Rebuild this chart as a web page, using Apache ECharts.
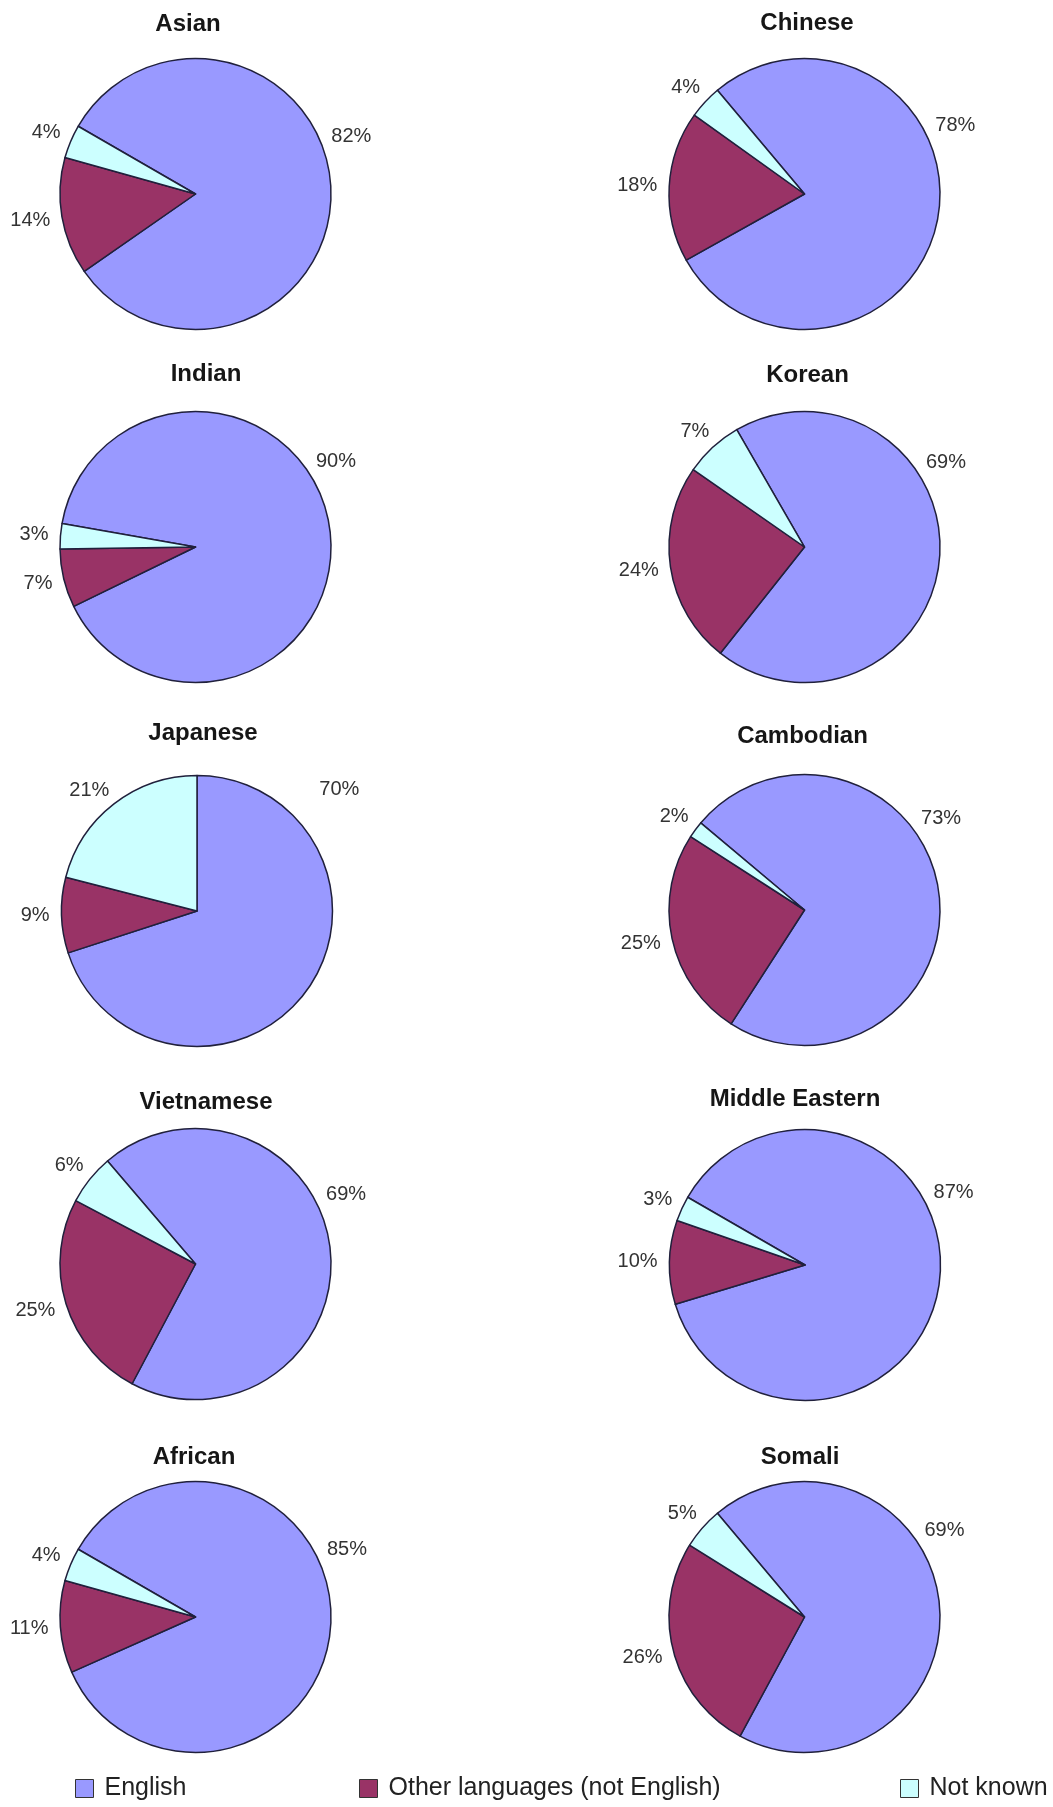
<!DOCTYPE html>
<html>
<head>
<meta charset="utf-8">
<title>Language spoken at home by ethnic group</title>
<script src="https://cdn.jsdelivr.net/npm/echarts@6/dist/echarts.min.js"></script>
<style>
  html, body { margin: 0; padding: 0; background: #ffffff; }
  #chart { width: 1053px; height: 1807px; }
</style>
</head>
<body>
<div id="chart"></div>
<script>
// ---- data -------------------------------------------------------------
const groups = ['Asian', 'Chinese', 'Indian', 'Korean', 'Japanese',
                'Cambodian', 'Vietnamese', 'Middle Eastern', 'African', 'Somali'];
const categories = ['English', 'Other languages (not English)', 'Not known'];
const english  = [82, 78, 90, 69, 70, 73, 69, 87, 85, 69];
const other    = [14, 18,  7, 24,  9, 25, 25, 10, 11, 26];
const notKnown = [ 4,  4,  3,  7, 21,  2,  6,  3,  4,  5];

// ---- layout -----------------------------------------------------------
const FONT = "'Liberation Sans', Arial, Helvetica, sans-serif";
const RADIUS = 135.5;
const pieCenters = [[195.5, 194], [804.5, 194], [195.5, 547], [804.5, 547], [197, 911],
                    [804.5, 910], [195.5, 1264], [805, 1265], [195.5, 1617], [804.5, 1617]];
const startAngles = [150, 130, 170, 120, 90, 140, 130.5, 150, 150, 130];
const titlePos = [[188, 24], [807, 23.5], [206, 374.5], [807.5, 375], [203, 733.5],
                  [802.5, 736.5], [206, 1102], [795, 1099.5], [194, 1457], [800, 1457]];
// the big "English" label sits up to the right of each pie
const englishLabelAngle = [21.5, 25.8, 33, 32.4, 42, 35.4, 26, 27.5, 25.3, 33.3];
const englishLabelGap   = [12, 12, 12, 12, 36, 12, 12, 12, 12, 12];
const notKnownLabelAngle = [null, null, null, null, 130, null, null, null, null, null];
const LABEL_GAP = 12;

function sliceValues(i) { return [english[i], other[i], notKnown[i]]; }

// places each percentage just outside its slice
function placeLabel(p) {
  const i = p.seriesIndex, j = p.dataIndex;
  const vals = sliceValues(i);
  const total = vals.reduce((a, b) => a + b, 0);
  let before = 0;
  for (let k = 0; k < j; k++) before += vals[k];
  let ang = startAngles[i] - (before + vals[j] / 2) / total * 360;
  let gap = LABEL_GAP;
  if (j === 0) { ang = englishLabelAngle[i]; gap = englishLabelGap[i]; }
  if (j === 2 && notKnownLabelAngle[i] != null) ang = notKnownLabelAngle[i];
  const rad = ang * Math.PI / 180;
  const [cx, cy] = pieCenters[i];
  const hw = p.labelRect.width / 2, hh = p.labelRect.height / 2;
  return {
    x: cx + (RADIUS + gap + hw) * Math.cos(rad),
    y: cy - (RADIUS + gap + hh) * Math.sin(rad),
    align: 'center',
    verticalAlign: 'middle'
  };
}

const titles = groups.map((g, i) => ({
  text: g,
  left: titlePos[i][0],
  top: titlePos[i][1],
  textAlign: 'center',
  textVerticalAlign: 'middle',
  padding: 0,
  textStyle: { fontFamily: FONT, fontSize: 24, fontWeight: 'bold', color: '#161616' }
}));

const series = groups.map((g, i) => ({
  type: 'pie',
  name: g,
  center: pieCenters[i],
  radius: RADIUS,
  startAngle: startAngles[i],
  clockwise: true,
  avoidLabelOverlap: false,
  silent: true,
  data: sliceValues(i).map((v, k) => ({ name: categories[k], value: v })),
  itemStyle: { borderColor: '#20203c', borderWidth: 1.5 },
  label: {
    show: true,
    position: 'outside',
    formatter: '{c}%',
    fontFamily: FONT,
    fontSize: 20,
    color: '#333333'
  },
  labelLine: { show: false },
  labelLayout: placeLabel,
  emphasis: { disabled: true }
}));

const legendBase = {
  orient: 'horizontal',
  top: 1776,
  padding: 0,
  icon: 'rect',
  itemWidth: 18,
  itemHeight: 18,
  selectedMode: false,
  itemStyle: { borderColor: '#333333', borderWidth: 1 },
  textStyle: { fontFamily: FONT, fontSize: 25, color: '#222222', lineHeight: 25, padding: [0, 0, 0, 6] }
};
const legendLeft = [75, 359, 900];
const legends = categories.map((c, k) => Object.assign({}, legendBase, { data: [c], left: legendLeft[k] }));

const chart = echarts.init(document.getElementById('chart'), null, { renderer: 'canvas' });
chart.setOption({
  backgroundColor: '#ffffff',
  animation: false,
  color: ['#9999FF', '#993366', '#CCFFFF'],
  title: titles,
  legend: legends,
  series: series
});
</script>
</body>
</html>
